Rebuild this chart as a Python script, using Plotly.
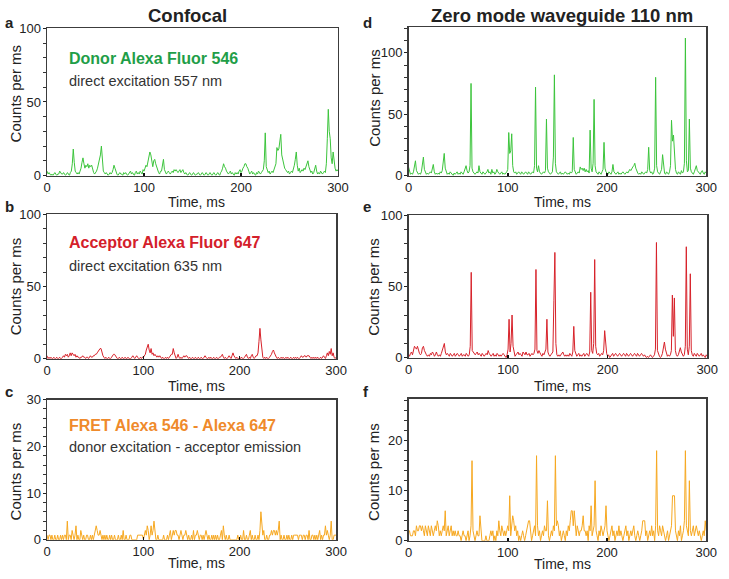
import plotly.graph_objects as go

# ---------------- data (counts per 1-ms bin, t = 0..300 ms) ----------------
TIME_MS = list(range(0, 301))

donor_confocal = [
    3, 1, 2, 1, 0, 1, 0, 1, 2, 1, 0, 1, 1, 3, 2, 1, 1, 2, 1, 0,
    1, 2, 1, 0, 2, 3, 8, 18, 9, 3, 2, 1, 2, 1, 3, 5, 9, 12, 8, 5,
    7, 6, 8, 5, 7, 6, 7, 3, 2, 1, 2, 3, 5, 8, 9, 14, 20, 9, 3, 2,
    1, 2, 1, 0, 1, 2, 1, 2, 4, 7, 5, 2, 1, 0, 1, 2, 1, 1, 0, 2,
    1, 2, 1, 0, 1, 2, 3, 1, 2, 1, 0, 2, 3, 1, 2, 1, 3, 2, 1, 4,
    3, 5, 7, 6, 10, 12, 16, 14, 8, 6, 10, 11, 8, 6, 3, 2, 1, 3, 3, 7,
    11, 4, 2, 1, 2, 3, 2, 1, 2, 3, 2, 4, 3, 4, 3, 2, 3, 4, 2, 3,
    4, 2, 1, 2, 1, 0, 1, 2, 1, 0, 1, 2, 1, 0, 1, 1, 2, 1, 0, 1,
    2, 1, 0, 1, 2, 1, 0, 1, 2, 1, 0, 1, 2, 1, 0, 1, 2, 1, 0, 2,
    3, 5, 8, 6, 5, 3, 2, 1, 2, 3, 1, 2, 1, 0, 2, 1, 2, 1, 3, 4,
    2, 3, 5, 6, 8, 8, 6, 5, 3, 1, 2, 3, 1, 2, 1, 0, 2, 1, 3, 2,
    1, 2, 3, 4, 10, 29, 6, 3, 2, 3, 1, 2, 3, 2, 4, 5, 8, 19, 17, 18,
    22, 28, 14, 10, 7, 5, 4, 3, 2, 3, 1, 2, 3, 2, 4, 7, 11, 16, 7, 3,
    5, 2, 3, 4, 3, 5, 4, 6, 9, 10, 6, 4, 2, 3, 1, 2, 4, 7, 3, 1,
    2, 1, 3, 2, 1, 2, 3, 2, 8, 25, 45, 30, 25, 12, 8, 16, 10, 5, 3, 4,
    3,
]

donor_zmw = [
    7, 3, 1, 2, 1, 3, 8, 12, 4, 2, 1, 2, 1, 3, 9, 15, 5, 2, 1, 2,
    1, 2, 3, 2, 5, 9, 3, 1, 2, 1, 2, 1, 3, 2, 4, 10, 18, 6, 2, 1,
    2, 1, 3, 2, 1, 0, 2, 1, 2, 3, 1, 2, 1, 3, 2, 1, 3, 5, 8, 4,
    2, 3, 8, 75, 6, 3, 2, 1, 2, 3, 2, 8, 3, 2, 1, 3, 2, 1, 2, 3,
    5, 2, 3, 1, 5, 2, 3, 1, 2, 5, 3, 2, 1, 2, 3, 1, 2, 1, 2, 3,
    5, 35, 18, 20, 34, 8, 3, 2, 3, 1, 2, 3, 2, 1, 3, 2, 1, 2, 3, 2,
    1, 3, 2, 1, 2, 3, 2, 8, 72, 6, 3, 8, 3, 2, 1, 2, 3, 2, 4, 46,
    6, 3, 2, 1, 2, 3, 15, 82, 10, 3, 2, 1, 2, 3, 1, 2, 1, 2, 3, 2,
    1, 2, 1, 3, 2, 3, 31, 5, 2, 1, 2, 3, 2, 7, 5, 6, 4, 6, 3, 5,
    3, 4, 2, 37, 6, 3, 10, 62, 8, 3, 2, 1, 3, 2, 1, 3, 5, 27, 6, 3,
    2, 1, 3, 2, 1, 3, 9, 3, 2, 1, 2, 3, 1, 2, 1, 2, 3, 2, 1, 2,
    3, 2, 4, 5, 4, 6, 7, 8, 10, 6, 3, 2, 1, 2, 1, 3, 2, 1, 2, 3,
    2, 5, 23, 4, 2, 3, 1, 2, 6, 80, 8, 3, 2, 1, 3, 5, 17, 6, 2, 1,
    3, 2, 1, 3, 8, 45, 28, 33, 19, 5, 2, 1, 3, 2, 1, 4, 2, 3, 10, 112,
    12, 3, 4, 46, 6, 3, 2, 1, 3, 5, 8, 4, 3, 2, 1, 3, 4, 2, 1, 3,
    2,
]

acceptor_confocal = [
    2, 0, 1, 0, 1, 0, 0, 1, 0, 0, 1, 0, 0, 1, 0, 0, 1, 2, 1, 3,
    2, 3, 1, 2, 4, 2, 4, 3, 2, 3, 1, 2, 1, 1, 0, 1, 1, 2, 1, 1,
    0, 1, 1, 0, 1, 2, 1, 1, 2, 2, 3, 3, 4, 5, 6, 7, 7, 4, 2, 1,
    0, 1, 0, 0, 1, 0, 0, 1, 2, 3, 3, 2, 1, 0, 0, 1, 0, 0, 1, 0,
    0, 1, 0, 0, 1, 0, 0, 0, 1, 2, 1, 0, 1, 2, 1, 0, 0, 1, 0, 1,
    1, 2, 3, 6, 8, 10, 6, 4, 7, 3, 4, 2, 3, 2, 1, 2, 1, 2, 1, 0,
    1, 0, 0, 1, 0, 1, 0, 1, 2, 3, 3, 7, 4, 1, 0, 1, 3, 1, 0, 1,
    0, 1, 2, 1, 2, 2, 1, 0, 1, 0, 0, 1, 0, 0, 1, 0, 0, 1, 0, 0,
    1, 0, 0, 1, 2, 1, 0, 0, 1, 0, 1, 0, 0, 1, 0, 0, 1, 0, 0, 1,
    1, 2, 3, 1, 0, 1, 0, 0, 1, 2, 1, 0, 2, 4, 2, 1, 0, 1, 0, 0,
    1, 0, 1, 0, 0, 1, 2, 3, 1, 0, 1, 0, 2, 3, 1, 0, 1, 2, 2, 4,
    12, 21, 13, 4, 1, 0, 1, 0, 1, 0, 0, 1, 2, 3, 5, 6, 4, 2, 1, 0,
    1, 0, 0, 1, 0, 1, 0, 0, 1, 0, 1, 0, 0, 1, 0, 0, 1, 0, 1, 0,
    1, 0, 0, 1, 2, 1, 1, 2, 2, 1, 2, 2, 2, 1, 0, 1, 0, 1, 0, 1,
    0, 1, 0, 0, 1, 0, 1, 2, 1, 0, 2, 4, 2, 5, 3, 7, 2, 4, 1, 0,
    1,
]

acceptor_zmw = [
    2, 1, 3, 4, 2, 5, 8, 7, 6, 8, 4, 3, 2, 3, 7, 8, 5, 3, 2, 1,
    2, 1, 3, 2, 4, 3, 1, 2, 4, 2, 1, 2, 1, 3, 5, 8, 10, 4, 2, 3,
    2, 1, 3, 2, 1, 2, 3, 1, 2, 3, 2, 1, 2, 3, 1, 2, 2, 1, 3, 2,
    1, 2, 8, 60, 5, 4, 3, 2, 3, 4, 2, 3, 2, 1, 3, 2, 1, 2, 3, 2,
    5, 3, 2, 1, 2, 3, 1, 2, 1, 3, 2, 1, 2, 1, 2, 3, 2, 1, 0, 2,
    6, 27, 4, 10, 30, 8, 3, 1, 2, 3, 4, 2, 3, 2, 1, 4, 3, 2, 4, 2,
    2, 3, 1, 2, 3, 2, 3, 6, 62, 5, 3, 5, 3, 2, 1, 3, 2, 4, 6, 27,
    4, 2, 1, 2, 3, 4, 40, 74, 10, 2, 1, 2, 1, 2, 3, 4, 2, 1, 2, 1,
    2, 1, 3, 2, 1, 4, 22, 5, 2, 1, 2, 3, 1, 2, 1, 2, 3, 1, 2, 3,
    2, 1, 4, 46, 5, 3, 10, 69, 8, 3, 2, 3, 1, 2, 3, 2, 5, 19, 8, 3,
    1, 2, 0, 1, 2, 3, 1, 2, 3, 2, 1, 2, 3, 2, 1, 2, 3, 2, 1, 3,
    2, 1, 2, 3, 2, 1, 2, 3, 2, 1, 3, 2, 1, 2, 3, 2, 1, 2, 1, 0,
    1, 0, 1, 2, 1, 0, 1, 2, 6, 81, 5, 2, 1, 0, 1, 3, 8, 11, 6, 2,
    1, 2, 1, 2, 5, 44, 15, 42, 5, 2, 1, 2, 5, 7, 4, 2, 1, 2, 8, 78,
    6, 2, 8, 59, 5, 2, 1, 3, 2, 1, 3, 2, 1, 2, 3, 1, 2, 1, 0, 2,
    1,
]

fret_confocal = [
    1, 0, 1, 1, 0, 1, 0, 0, 1, 0, 0, 1, 0, 0, 1, 0, 1, 0, 1, 1,
    0, 4, 0, 1, 1, 0, 2, 1, 0, 1, 3, 0, 1, 0, 0, 2, 1, 0, 1, 0,
    0, 1, 1, 0, 0, 1, 0, 1, 0, 1, 2, 3, 2, 1, 1, 2, 1, 0, 1, 0,
    1, 0, 1, 0, 0, 1, 0, 1, 0, 0, 1, 0, 0, 0, 1, 0, 0, 1, 0, 2,
    0, 0, 1, 0, 0, 0, 1, 1, 0, 0, 0, 0, 0, 0, 1, 1, 1, 1, 1, 1,
    0, 1, 2, 1, 3, 2, 0, 1, 3, 1, 2, 4, 1, 0, 0, 1, 0, 0, 0, 0,
    0, 1, 0, 0, 0, 1, 0, 1, 2, 0, 1, 2, 1, 2, 2, 1, 1, 0, 1, 2,
    1, 0, 1, 1, 2, 1, 0, 1, 0, 0, 1, 0, 2, 0, 1, 1, 2, 1, 0, 1,
    1, 0, 1, 0, 1, 2, 1, 0, 1, 0, 0, 1, 0, 1, 0, 1, 0, 1, 0, 0,
    1, 2, 0, 3, 1, 0, 1, 0, 0, 1, 0, 0, 0, 0, 0, 0, 0, 0, 1, 0,
    0, 1, 0, 0, 2, 0, 0, 1, 0, 0, 1, 2, 0, 1, 0, 0, 1, 0, 0, 1,
    0, 2, 6, 3, 1, 2, 0, 0, 1, 0, 0, 1, 1, 2, 1, 2, 2, 1, 2, 1,
    2, 4, 0, 1, 0, 0, 1, 0, 0, 1, 0, 1, 0, 0, 1, 0, 1, 1, 1, 1,
    1, 0, 1, 1, 1, 0, 1, 1, 0, 1, 1, 0, 2, 0, 0, 1, 1, 0, 1, 0,
    1, 0, 1, 2, 0, 1, 0, 1, 1, 3, 1, 2, 1, 0, 1, 4, 0, 0, 1, 1,
    1,
]

fret_zmw = [
    2, 2, 1, 1, 1, 2, 2, 1, 3, 2, 2, 3, 3, 2, 3, 2, 1, 3, 2, 1,
    3, 2, 1, 3, 2, 1, 2, 3, 2, 4, 3, 1, 2, 1, 2, 3, 2, 6, 1, 2,
    3, 1, 2, 3, 1, 2, 1, 2, 1, 1, 2, 1, 1, 0, 1, 2, 1, 1, 0, 1,
    2, 0, 1, 3, 16, 2, 1, 0, 1, 2, 1, 1, 5, 1, 0, 0, 0, 0, 1, 0,
    0, 0, 1, 2, 1, 2, 0, 1, 0, 2, 1, 4, 2, 1, 3, 2, 1, 2, 1, 2,
    3, 2, 9, 1, 3, 5, 4, 2, 3, 1, 2, 0, 1, 0, 1, 2, 1, 0, 1, 2,
    3, 4, 4, 1, 0, 1, 2, 3, 1, 17, 3, 1, 2, 0, 1, 2, 1, 3, 2, 2,
    8, 1, 0, 1, 2, 1, 3, 2, 17, 3, 4, 3, 1, 2, 0, 1, 2, 1, 0, 2,
    1, 3, 2, 4, 6, 6, 3, 6, 2, 1, 3, 2, 1, 2, 2, 3, 5, 2, 2, 1,
    2, 0, 3, 2, 7, 1, 2, 3, 12, 2, 1, 0, 2, 1, 3, 2, 1, 2, 3, 7,
    2, 1, 0, 1, 2, 3, 1, 2, 0, 1, 2, 1, 3, 1, 2, 1, 0, 1, 2, 3,
    1, 2, 0, 1, 2, 1, 2, 3, 1, 0, 1, 2, 1, 0, 1, 2, 4, 4, 4, 1,
    2, 0, 1, 2, 1, 3, 1, 2, 0, 3, 18, 2, 1, 3, 2, 1, 3, 2, 1, 0,
    1, 2, 0, 1, 2, 3, 9, 9, 9, 2, 1, 0, 2, 1, 3, 0, 1, 2, 4, 18,
    3, 2, 1, 12, 2, 1, 2, 3, 1, 2, 3, 2, 1, 2, 1, 0, 1, 2, 1, 4,
    2,
]

X_TICKS = [0, 100, 200, 300]
COLUMN_TITLES = ["Confocal", "Zero mode waveguide 110 nm"]
PANEL_LETTERS = ["a", "b", "c", "d", "e", "f"]
LABELS = ["Donor Alexa Fluor 546", "Acceptor Alexa Fluor 647", "FRET Alexa 546 - Alexa 647"]
SUBLABELS = ["direct excitation 557 nm", "direct excitation 635 nm", "donor excitation - acceptor emission"]

# ---------------- styling / layout ----------------
W, H = 729, 579
FONT = "Liberation Sans, Arial, sans-serif"
LINE_COLORS = ["#3cc43c", "#d7222a", "#f6a821"]
TEXT_COLORS = ["#1f9e48", "#d4202a", "#ef8a2b"]
FRAME = "#3c3c3c"


def px(x):
    return x / W


def py(y):
    return 1 - y / H


# (series, color index, x-domain px, y-domain px (top,bottom), yrange, ydtick, yminor)
panels = [
    (donor_confocal, 0, (44, 341), (22, 173), [0, 100], 50, 10),
    (acceptor_confocal, 1, (44, 339), (213, 361), [0, 100], 50, 10),
    (fret_confocal, 2, (44, 339), (403, 547), [0, 30], 10, 2),
    (donor_zmw, 0, (413, 717), (21, 173), [0, 120.6], 50, 10),
    (acceptor_zmw, 1, (413, 718), (214, 360), [0, 100], 50, 10),
    (fret_zmw, 2, (413, 717), (402, 548), [0, 28.4], 10, 2),
]

fig = go.Figure()
layout = dict(
    width=W, height=H,
    margin=dict(l=0, r=0, t=0, b=0),
    paper_bgcolor="white", plot_bgcolor="white",
    showlegend=False,
    font=dict(family=FONT, size=13, color="#222"),
)

for i, (series, ci, xd, yd, yr, ydt, ymin) in enumerate(panels):
    n = i + 1
    sfx = "" if n == 1 else str(n)
    fig.add_trace(go.Scatter(
        x=TIME_MS, y=series, mode="lines",
        line=dict(color=LINE_COLORS[ci], width=1),
        xaxis=f"x{sfx}", yaxis=f"y{sfx}",
        hoverinfo="skip",
    ))
    layout[f"xaxis{sfx}"] = dict(
        domain=[px(xd[0]), px(xd[1])], anchor=f"y{sfx}",
        range=[0, 300], tickvals=X_TICKS, ticks="inside", ticklen=3,
        tickcolor="#111", tickwidth=1.5,
        showline=True, mirror=True, linecolor=FRAME, linewidth=1.5,
        showgrid=False, zeroline=False,
        tickfont=dict(family=FONT, size=13, color="#222"),
        ticklabelstandoff=-1,
    )
    layout[f"yaxis{sfx}"] = dict(
        domain=[py(yd[1]), py(yd[0])], anchor=f"x{sfx}",
        range=yr, dtick=ydt, tick0=0, ticks="outside", ticklen=3,
        tickcolor="#222", tickwidth=1,
        minor=dict(dtick=ymin, tick0=0, ticks="outside", ticklen=3,
                   tickcolor="#333", tickwidth=1, showgrid=False),
        showline=True, mirror=True, linecolor=FRAME, linewidth=1.5,
        showgrid=False, zeroline=False,
        tickfont=dict(family=FONT, size=13, color="#222"),
        ticklabelstandoff=-1,
    )

annotations = []


def ann(text, x, y, size, color="#222", xanchor="center", yanchor="middle", angle=0):
    annotations.append(dict(
        text=text, x=px(x), y=py(y), xref="paper", yref="paper",
        showarrow=False, xanchor=xanchor, yanchor=yanchor, textangle=angle,
        font=dict(family=FONT, size=size, color=color),
    ))


# column titles
ann(f"<b>{COLUMN_TITLES[0]}</b>", 187, 9, 18.5)
ann(f"<b>{COLUMN_TITLES[1]}</b>", 570, 9, 18.5)

# panel letters
letter_pos = [(-1, 16), (-1, 205), (-1, 395), (364, 16), (364, 205), (364, 395)]
for L, (lx, ly) in zip(PANEL_LETTERS, letter_pos):
    ann(f"<b>{L}</b>", lx, ly, 15, xanchor="left")

# in-panel labels (confocal column)
label_y = [(53, 76), (242, 266), (430, 452)]
for k in range(3):
    ann(f"<b>{LABELS[k]}</b>", 64, label_y[k][0], 16, TEXT_COLORS[k], xanchor="left")
    ann(SUBLABELS[k], 64, label_y[k][1], 14.5, "#333", xanchor="left")

# axis titles
ylab_pos = [(12, 89), (12, 287), (12, 477), (378, 93), (377, 287), (377, 477)]
for (lx, ly) in ylab_pos:
    ann("Counts per ms", lx, ly, 15, angle=-90)
xlab_pos = [(197, 200), (197, 389), (197, 571), (570, 200), (570, 389), (570, 572)]
for (lx, ly) in xlab_pos:
    ann("Time, ms", lx, ly, 14)

layout["annotations"] = annotations
fig.update_layout(**layout)

# remove the default page margin right away (runs synchronously, not after plotting)
PAGE_FIX = ("}); document.documentElement.style.margin='0px';"
            "document.body.style.margin='0px';document.body.style.overflow='hidden';"
            "(function(){")
fig.write_html(
    "out.html",
    config={"displayModeBar": False, "staticPlot": True},
    post_script=PAGE_FIX,
)
